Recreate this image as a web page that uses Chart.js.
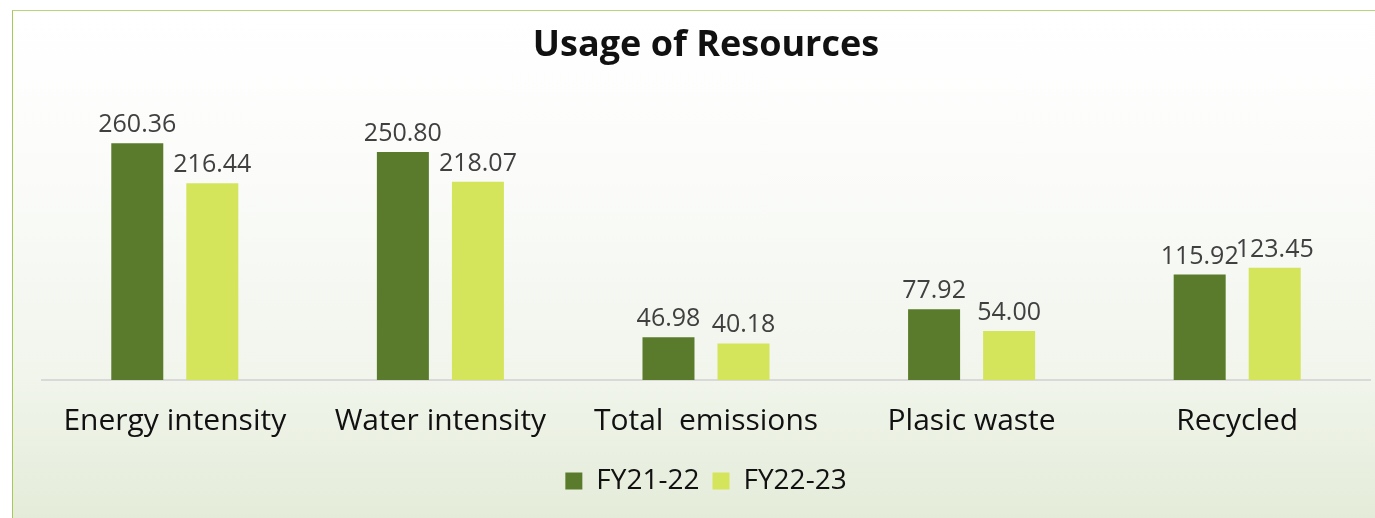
<!DOCTYPE html>
<html>
<head>
<meta charset="utf-8">
<script src="https://cdn.jsdelivr.net/npm/chart.js@4.4.0/dist/chart.umd.min.js"></script>
<style>
  html, body { margin: 0; padding: 0; width: 1375px; height: 518px; overflow: hidden; background: #fff; }
  #frame {
    position: absolute; left: 12px; top: 10px; width: 1400px; height: 520px;
    border-left: 1px solid #a8c95a; border-top: 1px solid #b9d57a;
    background: linear-gradient(to bottom, #ffffff 0%, #fbfcfa 30%, #f1f5ec 70%, #e3ebd7 100%);
  }
  #wrap { position: absolute; left: 0; top: 0; width: 1375px; height: 518px; }
</style>
</head>
<body>
<div id="frame"></div>
<div id="wrap"><canvas id="chart" width="1375" height="518"></canvas></div>
<script>
// données
const categories = ['Energy intensity', 'Water intensity', 'Total  emissions', 'Plasic waste', 'Recycled'];
const fy2122 = [260.36, 250.80, 46.98, 77.92, 115.92];
const fy2223 = [216.44, 218.07, 40.18, 54.00, 123.45];
const seriesNames = ['FY21-22', 'FY22-23'];

const FONT = '"Open Sans", "Noto Sans", sans-serif';

// étiquettes au-dessus des barres
const valueLabels = {
    id: 'valueLabels',
    afterDatasetsDraw(chart) {
        const ctx = chart.ctx;
        ctx.save();
        ctx.font = '25px ' + FONT;
        ctx.fillStyle = '#404040';
        ctx.textAlign = 'center';
        ctx.textBaseline = 'alphabetic';
        chart.data.datasets.forEach((ds, i) => {
            chart.getDatasetMeta(i).data.forEach((bar, j) => {
                ctx.fillText(ds.data[j].toFixed(2), bar.x, bar.y - 11);
            });
        });
        ctx.restore();
    }
};

const ctx = document.getElementById('chart').getContext('2d');
new Chart(ctx, {
    type: 'bar',
    data: {
        labels: categories,
        datasets: [{
            label: seriesNames[0],
            data: fy2122,
            backgroundColor: '#5a7b2b',
            categoryPercentage: 0.565,
            barPercentage: 0.693
        }, {
            label: seriesNames[1],
            data: fy2223,
            backgroundColor: '#d4e45b',
            categoryPercentage: 0.565,
            barPercentage: 0.693
        }]
    },
    options: {
        responsive: false,
        animation: false,
        layout: { padding: { left: 42, right: 5, top: 0, bottom: 13 } },
        plugins: {
            title: {
                display: true,
                text: 'Usage of Resources',
                color: '#111',
                font: { family: FONT, size: 36, weight: 'bold', lineHeight: 1.2 },
                padding: { top: 24, bottom: 40 }
            },
            legend: {
                position: 'bottom',
                labels: {
                    color: '#111',
                    font: { family: FONT, size: 28 },
                    boxWidth: 17,
                    boxHeight: 17,
                    padding: 13
                }
            },
            tooltip: { enabled: false }
        },
        scales: {
            x: {
                grid: { display: false, drawTicks: false },
                border: { display: true, color: '#d9d9d9', width: 2 },
                ticks: {
                    color: '#111',
                    font: { family: FONT, size: 30, lineHeight: 1.2 },
                    padding: 23,
                    maxRotation: 0
                },
                // hauteur fixe de l'axe
                afterFit: (scale) => { scale.height = 74; }
            },
            y: {
                display: false,
                min: 0,
                max: 300
            }
        }
    },
    plugins: [valueLabels]
});
</script>
</body>
</html>
